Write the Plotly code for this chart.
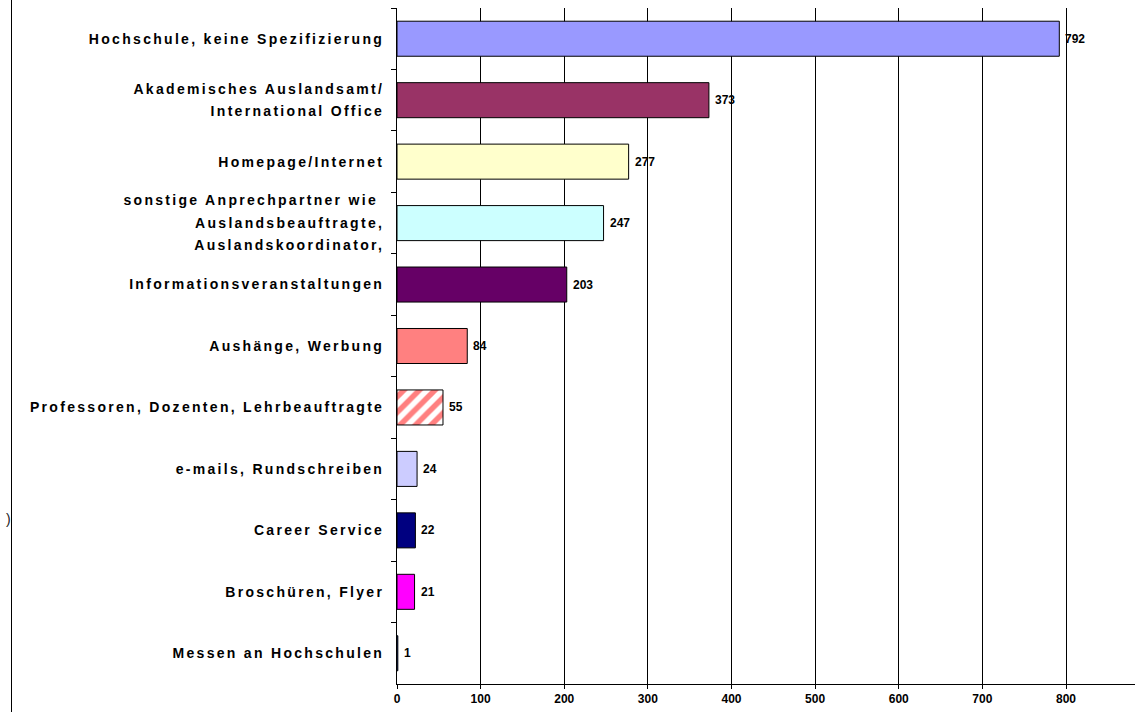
import plotly.graph_objects as go

categories = [
    "Hochschule, keine Spezifizierung",
    "Akademisches Auslandsamt/<br>International Office",
    "Homepage/Internet",
    "sonstige Anprechpartner wie <br>Auslandsbeauftragte,<br>Auslandskoordinator,",
    "Informationsveranstaltungen",
    "Aushänge, Werbung",
    "Professoren, Dozenten, Lehrbeauftragte",
    "e-mails, Rundschreiben",
    "Career Service",
    "Broschüren, Flyer",
    "Messen an Hochschulen",
]
values = [792, 373, 277, 247, 203, 84, 55, 24, 22, 21, 1]
colors = ["#9999FF", "#993366", "#FFFFCC", "#CCFFFF", "#660066", "#FF8080",
          "#FF8080", "#CCCCFF", "#000080", "#FF00FF", "#3366FF"]
patterns = ["", "", "", "", "", "", "/", "", "", "", ""]
x_ticks = [0, 100, 200, 300, 400, 500, 600, 700, 800]

W, H = 1135, 712
L, R, T, B = 397, 0, 8, 28
pw, ph = W - L - R, H - T - B
xmax = pw / (669 / 800)

fig = go.Figure()
fig.add_trace(go.Bar(
    y=categories, x=values, orientation="h", width=0.57,
    marker=dict(
        color=colors,
        line=dict(color="black", width=1),
        pattern=dict(shape=patterns, bgcolor="#FFFFFF",
                     size=11, solidity=0.5, fillmode="replace"),
    ),
    hoverinfo="x+y", showlegend=False,
))

for c, v in zip(categories, values):
    fig.add_annotation(x=v, y=c, text=str(v), showarrow=False, xanchor="left",
                       xshift=4, font=dict(family="Liberation Sans, Arial", size=12,
                                           color="black", weight="bold"))

def px_x(p):
    return (p - L) / pw

def px_y(p):
    return (H - B - p) / ph

fig.add_shape(type="line", xref="paper", yref="paper", x0=px_x(11.5), x1=px_x(11.5),
              y0=px_y(0), y1=px_y(712), line=dict(color="black", width=1))
fig.add_annotation(xref="paper", yref="paper", x=px_x(4), y=px_y(529), text=")",
                   showarrow=False, font=dict(family="Liberation Sans, Arial", size=14,
                                              color="#222222"))

fig.update_layout(
    width=W, height=H, template="none",
    margin=dict(l=L, r=R, t=T, b=B, autoexpand=False),
    paper_bgcolor="white", plot_bgcolor="white",
    font=dict(family="Liberation Sans, Arial", color="black"),
    xaxis=dict(range=[0, xmax], tickvals=x_ticks, ticktext=[str(t) for t in x_ticks],
               showgrid=True, gridcolor="black", gridwidth=1, zeroline=False,
               showline=True, linecolor="black", linewidth=1,
               ticks="outside", ticklen=4, tickcolor="black",
               tickfont=dict(size=12, weight="bold"), automargin=False),
    yaxis=dict(categoryorder="array", categoryarray=categories, autorange="reversed",
               showgrid=False, zeroline=False, showline=True, linecolor="black",
               linewidth=1, ticks="outside", ticklen=5, tickcolor="black",
               tickson="boundaries", ticklabelstandoff=9,
               tickfont=dict(size=14, weight="bold"), automargin=False),
)

post = """
(function(){
  document.body.style.margin = '0';
  document.documentElement.style.overflow = 'hidden';
  var gd = document.getElementById('{plot_id}');
  function fix(){
    gd.querySelectorAll('.ytick text').forEach(function(t){
      t.style.letterSpacing = '2.3px';
      var lines = t.querySelectorAll('tspan.line');
      var n = lines.length;
      if (n > 1) {
        var fs = 14, base = 1.3 * fs, Lh = 22.5, d = Lh - base;
        lines.forEach(function(ln, i){
          ln.setAttribute('dy', (i * base + (i - (n - 1) / 2) * d) + 'px');
        });
      }
    });
  }
  fix();
  gd.on && gd.on('plotly_afterplot', fix);
  setTimeout(fix, 50); setTimeout(fix, 300);
})();
"""
fig.write_html("out.html", post_script=post, config={"displayModeBar": False})
